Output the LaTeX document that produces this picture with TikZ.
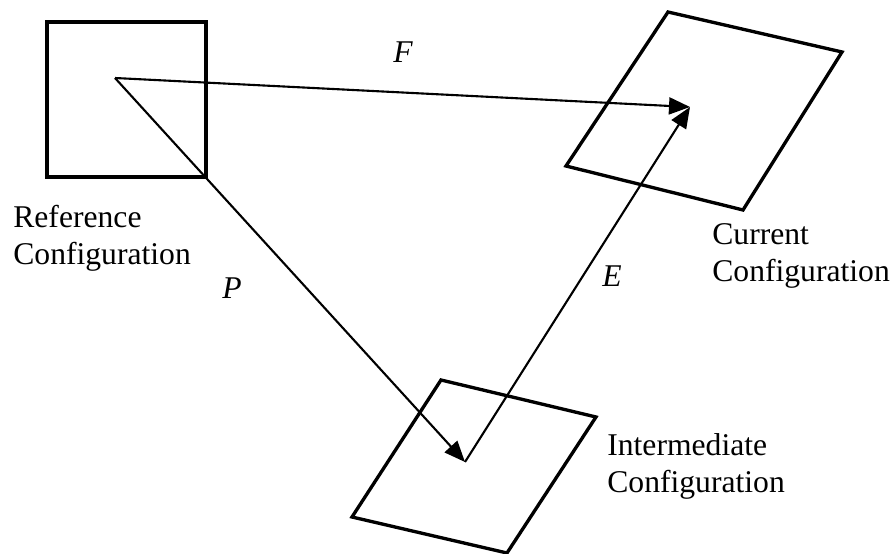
\documentclass[tikz,border=0pt]{standalone}
\usepackage{fontspec}
\setmainfont{Liberation Serif}
\usetikzlibrary{arrows.meta}

\begin{document}
\begin{tikzpicture}[x=0.2mm, y=-0.2mm,
    frame/.style={line width=1.9pt, line join=miter},
    map/.style={line width=1.2pt, -{Triangle[length=4.2mm,width=3.4mm]}},
    config/.style={anchor=west, inner sep=0pt, align=left, font=\fontsize{18}{21}\selectfont},
    maplbl/.style={inner sep=0pt, font=\fontsize{18}{21}\selectfont\itshape}]
    \useasboundingbox (0,0) rectangle (894,554);

    % Configurations
    \draw[frame] (47,22) rectangle (206,177);
    \draw[frame] (668,12) -- (842,52) -- (743,210) -- (566,166) -- cycle;
    \draw[frame] (441,380) -- (596,417) -- (507,553) -- (352,517) -- cycle;

    % Material point in each configuration
    \coordinate (refpt) at (115,78);
    \coordinate (curpt) at (690,107);
    \coordinate (intpt) at (465,462);

    % Mappings
    \draw[map] (refpt) -- (curpt);
    \draw[map] (refpt) -- (intpt);
    \draw[map] (intpt) -- (curpt);

    % Labels for the mappings
    \node[maplbl] (flbl) at (403,52) {F};
    \node[maplbl] (plbl) at (232,288) {P};
    \node[maplbl] (elbl) at (612,276) {E};

    % Labels for the configurations
    \node[config] (reflbl) at (13,238) {Reference\\Configuration};
    \node[config] (curlbl) at (712,256) {Current\\Configuration};
    \node[config] (intlbl) at (607,466) {Intermediate\\Configuration};
\end{tikzpicture}
\end{document}
